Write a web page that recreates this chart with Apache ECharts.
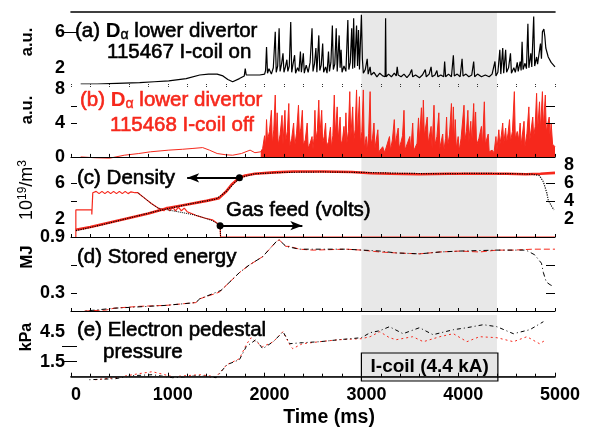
<!DOCTYPE html>
<html><head><meta charset="utf-8">
<script src="https://cdn.jsdelivr.net/npm/echarts@6/dist/echarts.min.js"></script>
<style>html,body{margin:0;padding:0;background:#fff}#c{width:591px;height:432px}</style>
</head><body><div id="c"></div>
<script>
// ---------------- data ----------------
const timeTicks = [0, 1000, 2000, 3000, 4000, 5000];
const iCoilWindow = [3000, 4400];
const iCoilLabel = 'I-coil (4.4 kA)';

// (a) D-alpha lower divertor, shot 115467 (I-coil on)  [time ms, a.u.]
const dalphaOn = [[100,0.2],[270,0.2],[400,0.25],[550,0.3],[710,0.35],[860,0.45],[1010,0.55],[1190,0.8],[1330,1.2],[1420,1.3],[1510,1.3],[1570,1.1],[1620,0.7],[1670,0.45],[1740,0.8],[1790,1.1],[1800,1.9],[1810,1.2],[1880,1.2],[1950,1.2],
[2000,1.3],[2010,1.7],[2020,4.3],[2030,1.4],[2045,1.9],[2060,2.1],[2070,1.3],[2090,2.0],[2110,6.0],[2120,1.5],[2135,2.2],[2150,6.4],[2160,1.6],[2175,2.4],[2190,3.6],[2200,1.5],[2215,2.1],[2230,2.9],[2240,1.6],[2255,2.2],[2270,7.1],[2280,1.5],[2295,2.5],[2310,3.4],[2320,1.4],[2340,2.0],[2355,1.6],[2370,3.8],[2380,1.5],[2400,3.6],[2410,1.4],[2430,2.3],[2450,1.5],[2470,2.6],[2490,6.4],[2500,1.6],[2515,2.4],[2530,4.2],[2540,1.5],[2560,5.6],[2570,1.7],[2585,2.3],[2600,4.7],[2610,1.5],[2630,2.1],[2645,1.4],[2660,3.8],[2670,1.6],[2685,2.6],[2700,6.7],[2710,1.8],[2725,2.4],[2740,6.4],[2750,1.6],[2770,5.6],[2780,2.0],[2790,4.0],[2800,1.5],[2820,2.2],[2840,1.6],[2860,7.3],[2870,1.8],[2885,2.6],[2900,6.4],[2910,1.9],[2920,7.5],[2930,2.0],[2950,6.7],[2960,2.2],[2970,6.2],[2980,1.8],[3000,7.9],[3010,3.0],[3020,1.4],[3040,1.8],[3060,3.0],[3070,1.3],[3090,2.1],[3100,1.2],[3130,1.5],[3160,1.0],[3190,1.4],[3220,1.1],[3245,1.0],[3250,7.5],[3255,1.0],[3280,1.3],[3310,1.0],[3340,1.4],[3360,1.1],[3370,2.1],[3380,1.2],[3410,1.0],[3440,1.3],[3470,0.9],[3500,1.3],[3520,1.8],[3530,1.0],[3560,1.2],[3600,0.9],[3630,1.2],[3660,1.8],[3670,1.0],[3700,1.3],[3720,2.1],[3730,1.0],[3760,1.2],[3780,1.7],[3790,1.0],[3820,1.2],[3850,1.0],[3860,2.7],[3870,1.0],[3900,1.3],[3930,1.0],[3950,3.4],[3960,1.1],[3990,1.3],[4020,1.0],[4040,3.0],[4050,1.1],[4080,1.3],[4110,1.0],[4140,1.2],[4160,2.7],[4170,1.0],[4200,1.3],[4240,1.0],[4280,1.2],[4320,1.0],[4350,1.3],[4380,2.7],[4390,1.1],[4410,1.5],[4430,4.0],[4440,1.3],[4460,4.2],[4470,1.4],[4490,4.0],[4500,1.5],[4520,2.0],[4540,3.6],[4550,1.4],[4575,2.0],[4590,1.5],[4610,2.6],[4620,1.6],[4640,2.7],[4650,1.7],[4660,4.9],[4670,1.8],[4690,2.5],[4705,1.9],[4720,6.9],[4730,2.0],[4750,3.6],[4760,2.1],[4780,7.7],[4790,2.2],[4810,3.2],[4820,2.4],[4850,4.7],[4860,3.0],[4870,6.0],[4885,6.3],[4895,5.5],[4905,4.2],[4930,3.2],[4960,2.6],[5000,2.1]];

// (b) D-alpha lower divertor, shot 115468 (I-coil off)
const dalphaOffQuiet = [[100,0.0],[250,-0.1],[400,-0.15],[550,0.2],[700,0.4],[820,0.6],[1010,0.8],[1150,0.9],[1260,1.0],[1360,1.1],[1430,0.8],[1510,0.4],[1600,0.25],[1670,0.2],[1760,0.4],[1850,0.8],[1900,0.5],[1960,0.6]];
const dalphaOffBursts = [[1960,0.6],[1980,1.0],[2000,2.5],[2010,1.2],[2020,4.4],[2030,2.0],[2050,3.0],[2070,5.5],[2080,1.5],[2095,3.2],[2110,7.3],[2120,2.2],[2130,5.2],[2140,1.4],[2160,2.6],[2180,4.9],[2190,1.5],[2210,5.5],[2220,2.0],[2235,3.0],[2250,6.3],[2260,1.3],[2280,2.2],[2300,4.0],[2310,1.2],[2330,2.8],[2350,6.1],[2360,2.5],[2375,3.4],[2390,5.5],[2400,1.4],[2420,2.0],[2440,4.0],[2450,1.0],[2470,1.6],[2490,2.4],[2500,0.9],[2510,2.2],[2520,5.5],[2530,2.0],[2545,3.1],[2560,6.7],[2570,2.4],[2590,5.5],[2600,1.6],[2615,2.4],[2630,4.0],[2640,1.2],[2660,1.8],[2680,3.5],[2690,1.1],[2705,2.5],[2720,7.3],[2730,2.6],[2750,5.9],[2760,2.0],[2780,4.7],[2790,1.5],[2805,2.0],[2820,3.6],[2830,1.8],[2840,5.2],[2850,1.6],[2865,3.0],[2880,7.7],[2890,2.2],[2910,5.9],[2920,1.8],[2935,3.2],[2950,7.9],[2960,2.5],[2980,7.1],[2990,1.6],[3005,3.0],[3020,7.9],[3030,1.0],[3050,2.4],[3060,0.6],[3075,2.8],[3090,7.7],[3100,1.5],[3115,2.2],[3130,4.0],[3140,1.0],[3170,3.2],[3180,0.6],[3200,0.5],[3220,1.2],[3240,0.5],[3260,0.7],[3290,2.4],[3300,0.8],[3320,2.0],[3340,4.4],[3350,1.5],[3365,2.5],[3380,3.4],[3390,1.0],[3410,1.8],[3425,2.5],[3440,5.5],[3450,0.8],[3470,0.6],[3500,2.4],[3510,0.7],[3530,4.0],[3540,0.7],[3560,0.5],[3575,1.6],[3590,4.6],[3600,2.0],[3620,5.8],[3630,2.5],[3640,6.7],[3650,2.5],[3680,4.7],[3690,1.6],[3720,3.6],[3730,1.0],[3750,6.1],[3760,1.4],[3780,2.4],[3800,5.2],[3810,1.0],[3840,2.7],[3850,0.6],[3870,2.2],[3880,4.7],[3890,1.2],[3910,2.6],[3930,6.3],[3940,2.0],[3950,5.9],[3960,1.6],[3970,4.4],[3980,1.0],[4000,2.4],[4010,0.7],[4030,2.2],[4060,6.1],[4070,2.0],[4085,3.0],[4100,5.5],[4110,1.8],[4130,4.2],[4140,1.5],[4160,6.3],[4170,2.2],[4180,5.3],[4190,1.4],[4215,2.2],[4240,3.6],[4250,1.2],[4270,6.5],[4280,1.5],[4310,2.7],[4320,0.6],[4350,0.8],[4370,0.5],[4390,2.4],[4400,0.8],[4420,3.2],[4430,1.4],[4445,2.5],[4460,4.0],[4470,1.5],[4490,3.4],[4500,1.6],[4515,2.8],[4530,4.4],[4540,1.8],[4560,3.0],[4580,7.7],[4590,2.2],[4610,3.0],[4625,2.0],[4640,4.0],[4650,1.4],[4680,4.2],[4690,1.2],[4710,2.8],[4730,5.9],[4740,2.0],[4770,4.7],[4780,2.4],[4795,3.6],[4810,7.5],[4820,3.0],[4840,6.5],[4850,3.2],[4870,7.7],[4880,3.5],[4900,7.3],[4910,3.0],[4940,4.7],[4950,2.2],[4960,4.0],[4975,1.5],[5000,1.2]];

// (c) density (1e19/m3) and gas feed (volts)
const densityOff = [[50,0.8],[200,1.1],[400,1.6],[600,2.1],[800,2.6],[1000,3.2],[1200,3.6],[1400,4.0],[1530,4.3],[1600,5.0],[1660,5.8],[1740,6.55],[1800,6.8],[1900,7.0],[2100,7.15],[2300,7.25],[2600,7.25],[2900,7.2],[3100,7.05],[3300,7.0],[3600,6.95],[3900,7.0],[4200,7.0],[4500,7.0],[4700,6.95],[4850,7.0],[5000,7.1]];
const densityOn = [[50,0.7],[300,1.3],[600,2.1],[900,2.9],[1200,3.6],[1500,4.2],[1600,5.0],[1740,6.55],[1900,7.0],[2200,7.15],[2600,7.2],[3000,7.15],[3400,7.05],[3800,7.0],[4200,7.05],[4600,7.0],[4760,6.95],[4840,6.8],[4880,6.1],[4915,4.9],[4930,4.1],[4965,3.4],[4990,3.0]];
const gasOff = [[50,0],[50,3.0],[215,3.0],[215,2.5],[225,4.9],[260,5.05],[290,4.8],[320,5.05],[350,4.8],[380,5.05],[410,4.8],[440,5.05],[470,4.8],[500,5.05],[530,4.8],[560,5.05],[590,4.8],[620,5.0],[660,4.9],[690,4.9],[760,4.3],[830,3.7],[900,3.2],[960,2.9],[990,3.3],[1020,2.9],[1050,3.3],[1080,2.9],[1110,3.3],[1140,2.9],[1170,3.2],[1200,2.8],[1290,2.4],[1380,2.1],[1460,1.9],[1540,1.3],[1545,0],[5000,0]];
const gasOn = [[690,4.9],[760,4.3],[830,3.7],[900,3.2],[1000,3.0],[1100,2.8],[1200,2.6],[1290,2.4],[1380,2.1],[1460,1.8],[1540,1.3],[1545,0]];

// (d) stored energy (MJ)
const energyOff = [[140,0.11],[360,0.12],[445,0.14],[710,0.16],[980,0.17],[1290,0.2],[1330,0.24],[1530,0.31],[1550,0.33],[1740,0.52],[1840,0.6],[1980,0.69],[2120,0.85],[2150,0.87],[2220,0.8],[2260,0.8],[2360,0.77],[2500,0.76],[2840,0.77],[3000,0.76],[3190,0.74],[3360,0.73],[3600,0.72],[3810,0.74],[4020,0.75],[4220,0.74],[4400,0.76],[4570,0.76],[4770,0.77],[5000,0.77]];
const energyOn = [[150,0.11],[450,0.14],[980,0.17],[1290,0.2],[1330,0.24],[1550,0.33],[1740,0.52],[1840,0.6],[1980,0.69],[2120,0.85],[2150,0.87],[2220,0.8],[2360,0.77],[2840,0.77],[3190,0.75],[3360,0.73],[3600,0.72],[3810,0.74],[4020,0.75],[4400,0.76],[4700,0.76],[4790,0.71],[4860,0.62],[4880,0.52],[4910,0.42],[4950,0.39],[4990,0.37]];

// (e) electron pedestal pressure (kPa)
const pressureOn = [[190,-0.3],[460,-0.2],[630,0.1],[840,0.2],[1050,-0.1],[1330,0.1],[1500,-0.1],[1610,1.2],[1740,1.7],[1810,3.0],[1910,3.7],[1980,2.8],[2090,3.5],[2190,4.5],[2260,3.3],[2390,3.4],[2570,3.5],[2770,3.7],[3000,3.9],[3090,4.4],[3190,4.6],[3290,5.0],[3430,4.3],[3600,4.9],[3740,4.2],[3950,4.7],[4090,4.9],[4260,5.2],[4400,5.0],[4570,4.3],[4740,4.7],[4880,5.5]];
const pressureOff = [[250,-0.3],[460,-0.1],[700,0.3],[840,0.5],[1050,0.0],[1330,0.2],[1500,0.0],[1610,1.2],[1740,1.8],[1810,3.2],[1860,3.9],[1910,3.5],[1980,3.0],[2090,3.5],[2190,4.5],[2260,3.2],[2290,2.8],[2390,3.3],[2570,3.5],[2770,3.7],[3000,3.8],[3090,4.0],[3190,4.5],[3290,3.9],[3360,3.7],[3530,4.0],[3640,3.5],[3810,4.0],[3950,4.3],[4090,3.5],[4220,4.0],[4400,3.9],[4570,3.5],[4710,4.0],[4840,3.3],[4910,3.7]];

// axis tick labels per panel
const aLabels = [2, 6],   aTicks = [6];
const bLabels = [0, 4, 8], bTicks = [4, 6];
const cLabels = [2, 6],   cTicks = [4, 6], cRightLabels = [2, 4, 6, 8];
const dLabels = [0.3, 0.9], dTicks = [0.3, 0.6];
const eLabels = [1.5, 4.5], eTicks = [1.5, 3.0];

// ---------------- chart ----------------
const RED = '#f6281c';
const FF = '"Liberation Sans", Arial, Helvetica, sans-serif';
const chart = echarts.init(document.getElementById('c'), null, {renderer: 'canvas'});

const L = 71, R = 36;
const grids = [
  {left: L, right: R, top: 12, height: 72},
  {left: L, right: R, top: 84, height: 78},
  {left: L, right: R, top: 162, height: 75},
  {left: L, right: R, top: 237, height: 74},
  {left: L, right: R, top: 315, height: 66}
];
const yRanges = [[0.2, 8.2], [-0.6, 8.6], [0, 8.3], [0.11, 0.9], [-0.43, 6.17]];
const leftLabels = [aLabels, bLabels, cLabels, dLabels, eLabels];
const leftTicks = [aTicks, bTicks, cTicks, dTicks, eTicks];

function xAx(gi, extra) {
  return Object.assign({
    gridIndex: gi, type: 'value', min: 0, max: 5000, interval: 200, z: 6,
    splitLine: {show: false}, axisLabel: {show: false},
    axisTick: {show: true, inside: true, length: 3, lineStyle: {color: '#000', width: 1}},
    axisLine: {show: true, lineStyle: {color: '#000', width: 1.2}}
  }, extra || {});
}
const xAxes = [
  xAx(0, {axisLine: {show: false}, axisTick: {show: true, inside: false, length: 3, lineStyle: {color: '#333', width: 1, type: 'dotted'}}}),
  xAx(1),
  xAx(2),
  xAx(3),
  xAx(4, {interval: 1000,
    axisLabel: {show: true, customValues: timeTicks, formatter: v => String(v), fontSize: 18, fontWeight: 'bold', color: '#000', fontFamily: FF, margin: 5, padding: [0, 0, 0, 10]},
    axisTick: {show: true, inside: true, length: 4, lineStyle: {color: '#000'}},
    minorTick: {show: true, splitNumber: 5, length: 3, lineStyle: {color: '#000'}},
    axisLine: {show: true, lineStyle: {color: '#000', width: 1.5}}}),
  xAx(0, {position: 'top', axisTick: {show: false}, axisLine: {show: true, lineStyle: {color: '#000', width: 1.6}}}),
  xAx(4, {position: 'top', axisTick: {show: false}, axisLine: {show: true, lineStyle: {color: '#222', width: 1.2}}})
];

const yAxes = [];
for (let i = 0; i < 5; i++) {
  yAxes.push({
    gridIndex: i, type: 'value', min: yRanges[i][0], max: yRanges[i][1], z: 6,
    splitLine: {show: false}, axisLine: {show: false},
    axisLabel: {show: true, customValues: leftLabels[i], formatter: v => String(v), fontSize: 18, fontWeight: 'bold', color: '#000', fontFamily: FF, margin: 6},
    axisTick: {show: true, inside: true, length: 6, customValues: leftTicks[i], lineStyle: {color: '#000', width: 1}}
  });
  yAxes.push({
    gridIndex: i, type: 'value', position: 'right', min: yRanges[i][0], max: yRanges[i][1], z: 6,
    splitLine: {show: false}, axisLine: {show: false},
    axisLabel: i === 2
      ? {show: true, customValues: cRightLabels, fontSize: 18, fontWeight: 'bold', color: '#000', fontFamily: FF, margin: 9}
      : {show: false},
    axisTick: {show: true, inside: true, length: 9, customValues: leftTicks[i], lineStyle: {color: '#000', width: 1}}
  });
}

const shade = {silent: true, z: 1, itemStyle: {color: '#e8e8e8'}, label: {show: false},
  data: [[{xAxis: iCoilWindow[0]}, {xAxis: iCoilWindow[1]}]]};

function ln(gi, data, color, width, type, extra) {
  return Object.assign({
    type: 'line', xAxisIndex: gi, yAxisIndex: gi * 2, data: data,
    symbol: 'none', showSymbol: false, z: 3, silent: true,
    lineStyle: {color: color, width: width, type: type || 'solid'}
  }, extra || {});
}

const series = [
  ln(0, dalphaOn, '#000', 1.2, 'solid', {markArea: shade}),
  ln(1, dalphaOffQuiet, RED, 1, 'solid', {markArea: shade}),
  ln(1, dalphaOffBursts, RED, 1, 'solid', {areaStyle: {color: RED, opacity: 1}}),
  ln(2, gasOff, RED, 1.2, 'solid', {markArea: shade}),
  ln(2, gasOn, '#000', 1, 'dotted'),
  ln(2, densityOff, RED, 2.6, 'solid', {z: 4}),
  ln(2, densityOn, '#000', 1.2, 'dotted', {z: 5,
    markLine: {silent: true, symbol: ['circle', 'arrow'], symbolSize: [7, 12],
      label: {show: false}, lineStyle: {color: '#000', width: 2, type: 'solid'},
      data: [
        [{coord: [1740, 6.55]}, {coord: [1200, 6.55]}],
        [{coord: [1540, 1.25]}, {coord: [2390, 1.25]}]
      ]}}),
  ln(3, energyOff, RED, 1, [6, 3], {markArea: shade}),
  ln(3, energyOn, '#000', 1, [1, 3, 5, 3]),
  ln(4, pressureOff, RED, 1, [2, 3], {markArea: shade}),
  ln(4, pressureOn, '#000', 1, [1, 3, 4, 3], {
    markArea: {silent: true, z: 2,
      itemStyle: {color: '#e6e6e6', borderColor: '#000', borderWidth: 1.2},
      label: {show: true, position: 'inside', formatter: iCoilLabel, color: '#000', fontSize: 19, fontWeight: 'bold', fontFamily: FF},
      data: [[{xAxis: iCoilWindow[0], yAxis: -0.43}, {xAxis: 4410, yAxis: 2.37}]]}})
];

function txt(x, y, text, opts) {
  const st = Object.assign({text: text, fill: '#000', font: '20.5px ' + FF, align: 'left', verticalAlign: 'middle',
    stroke: '#000', lineWidth: 0.6}, (opts && opts.style) || {});
  return Object.assign({type: 'text', x: x, y: y, z: 20, silent: true, style: st}, (opts && opts.el) || {});
}
function titleRich(color) {
  return {
    n: {fontSize: 20.5, fontFamily: FF, fill: color, stroke: color, lineWidth: 0.6},
    b: {fontSize: 20.5, fontFamily: FF, fontWeight: 'bold', fill: color},
    s: {fontSize: 14, fontFamily: FF, fill: color, verticalAlign: 'bottom', padding: [9, 0, 0, 0], stroke: color, lineWidth: 0.4}
  };
}
const rot = Math.PI / 2;
const graphic = [
  txt(27, 42, 'a.u.', {el: {rotation: rot}, style: {font: 'bold 16.5px ' + FF, align: 'center', lineWidth: 0}}),
  txt(27, 110, 'a.u.', {el: {rotation: rot}, style: {font: 'bold 16.5px ' + FF, align: 'center', lineWidth: 0}}),
  txt(27, 190, '{n|10}{p|19}{n|/m}{p|3}', {el: {rotation: rot}, style: {align: 'center', lineWidth: 0,
    rich: {n: {fontSize: 18, fontFamily: FF, fill: '#000'}, p: {fontSize: 12, fontFamily: FF, fill: '#000', verticalAlign: 'top', padding: [0, 0, 8, 0]}}}}),
  txt(27, 257, 'MJ', {el: {rotation: rot}, style: {font: 'bold 17px ' + FF, align: 'center', lineWidth: 0}}),
  txt(27, 337, 'kPa', {el: {rotation: rot}, style: {font: 'bold 16px ' + FF, align: 'center', lineWidth: 0}}),
  txt(75, 31, '{n|(a) }{b|D}{s|α}{n| lower divertor}', {style: {rich: titleRich('#000'), lineWidth: 0}}),
  txt(107, 52, '115467 I-coil on'),
  txt(80, 100, '{n|(b) }{b|D}{s|α}{n| lower divertor}', {style: {rich: titleRich(RED), lineWidth: 0}}),
  txt(110, 125, '115468 I-coil off', {style: {fill: RED, stroke: RED}}),
  txt(77, 178, '(c) Density'),
  txt(226, 210, 'Gas feed (volts)'),
  txt(77, 257, '(d) Stored energy'),
  txt(77, 330, '(e) Electron pedestal'),
  txt(103, 352, 'pressure'),
  txt(329, 418, 'Time (ms)', {style: {font: 'bold 19.5px ' + FF, align: 'center', lineWidth: 0}})
];

chart.setOption({
  animation: false,
  backgroundColor: '#fff',
  grid: grids,
  xAxis: xAxes,
  yAxis: yAxes,
  series: series,
  graphic: graphic
});
</script>
</body></html>
